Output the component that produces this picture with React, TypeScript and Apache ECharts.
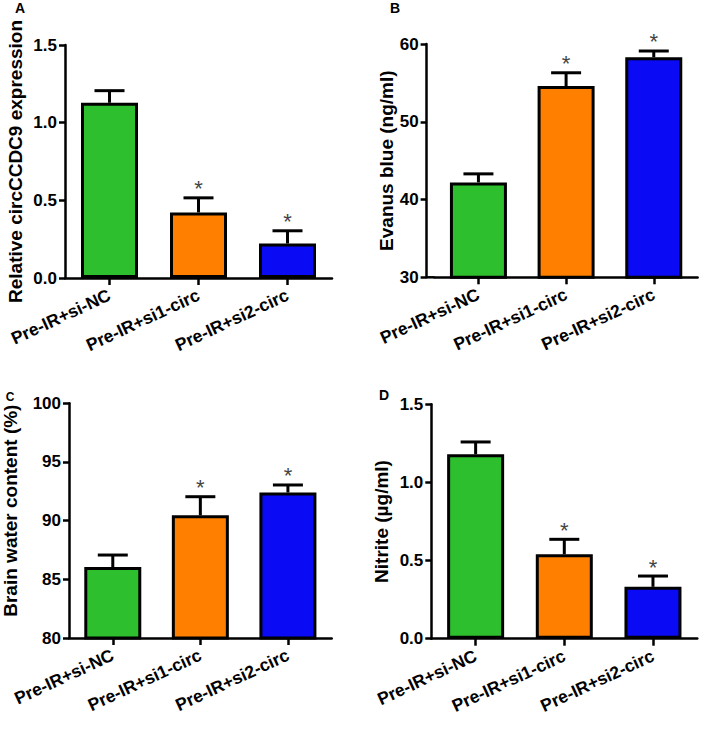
import React, { useEffect, useRef } from "react";
import * as echarts from "echarts";

const categories = ["Pre-IR+si-NC", "Pre-IR+si1-circ", "Pre-IR+si2-circ"];
const barColors = ["#2EBF2E", "#FF8000", "#0A0AF5"];
const significant = [0, 1, 1];

const relExprMean = [1.128, 0.422, 0.222];
const relExprErr = [0.078, 0.094, 0.082];

const evansMean = [42.2, 54.6, 58.3];
const evansErr = [1.1, 1.7, 0.8];

const waterMean = [86.05, 90.45, 92.4];
const waterErr = [1.02, 1.59, 0.64];

const nitriteMean = [1.18, 0.54, 0.332];
const nitriteErr = [0.079, 0.096, 0.069];

const FONT = "'Liberation Sans', Arial, Helvetica, sans-serif";

type Panel = {
  letter: string;
  name: string;
  mean: number[];
  err: number[];
  min: number;
  max: number;
  interval: number;
  decimals: number;
  grid: { left: number; top: number; width: number; height: number };
  yOffset: number;
  nameGap: number;
  namePad: number[];
  letterPos: [number, number];
  letterSize: number;
};

const panels: Panel[] = [
  {
    letter: "A",
    name: "Relative circCCDC9 expression",
    mean: relExprMean,
    err: relExprErr,
    min: 0,
    max: 1.5,
    interval: 0.5,
    decimals: 1,
    grid: { left: 65, top: 45, width: 267, height: 233 },
    yOffset: 0,
    nameGap: 40,
    namePad: [0, 0, 0, 0],
    letterPos: [20, 8],
    letterSize: 14,
  },
  {
    letter: "B",
    name: "Evanus blue (ng/ml)",
    mean: evansMean,
    err: evansErr,
    min: 30,
    max: 60,
    interval: 10,
    decimals: 0,
    grid: { left: 434.6, top: 44, width: 263, height: 233.3 },
    yOffset: 8,
    nameGap: 27,
    namePad: [0, 0, 0, 0],
    letterPos: [395, 8],
    letterSize: 14,
  },
  {
    letter: "C",
    name: "Brain water content (%)",
    mean: waterMean,
    err: waterErr,
    min: 80,
    max: 100,
    interval: 5,
    decimals: 0,
    grid: { left: 66.7, top: 403.3, width: 265, height: 234.7 },
    yOffset: 0,
    nameGap: 49,
    namePad: [0, 0, 0, 20],
    letterPos: [10, 397],
    letterSize: 12,
  },
  {
    letter: "D",
    name: "Nitrite (µg/ml)",
    mean: nitriteMean,
    err: nitriteErr,
    min: 0,
    max: 1.5,
    interval: 0.5,
    decimals: 1,
    grid: { left: 431.3, top: 404.3, width: 266, height: 234.4 },
    yOffset: 0,
    nameGap: 40,
    namePad: [0, 0, 0, 0],
    letterPos: [384, 395],
    letterSize: 14,
  },
];

export default function App() {
  const ref = useRef<HTMLDivElement>(null);

  useEffect(() => {
    if (!ref.current) return;
    const chart = echarts.init(ref.current, undefined, { renderer: "svg" });

    const axisLine = { show: true, lineStyle: { color: "#000", width: 2.5 } };
    const axisTick = { show: true, length: 6, lineStyle: { color: "#000", width: 2.5 } };

    const grid = panels.map((p) => ({ ...p.grid, containLabel: false }));

    const xAxis = panels.map((p, i) => ({
      type: "category",
      gridIndex: i,
      data: categories,
      boundaryGap: true,
      axisLine,
      axisTick: { ...axisTick, length: 7, alignWithLabel: true },
      axisLabel: {
        rotate: 25,
        margin: 16,
        interval: 0,
        color: "#000",
        fontSize: 17.5,
        fontWeight: "bold",
        fontFamily: FONT,
      },
      splitLine: { show: false },
    }));

    const yAxis = panels.map((p, i) => ({
      type: "value",
      gridIndex: i,
      min: p.min,
      max: p.max,
      interval: p.interval,
      offset: p.yOffset,
      name: p.name,
      nameLocation: "middle",
      nameGap: p.nameGap,
      nameTextStyle: {
        color: "#000",
        fontSize: 19,
        fontWeight: "bold",
        fontFamily: FONT,
        padding: p.namePad,
      },
      axisLine,
      axisTick,
      axisLabel: {
        margin: 8,
        color: "#000",
        fontSize: 17,
        fontWeight: "bold",
        fontFamily: FONT,
        formatter: (v: number) => v.toFixed(p.decimals),
      },
      splitLine: { show: false },
    }));

    const series: any[] = [];
    panels.forEach((p, i) => {
      series.push({
        type: "bar",
        xAxisIndex: i,
        yAxisIndex: i,
        barWidth: 57,
        data: p.mean.map((v, j) => ({
          value: v,
          itemStyle: { color: barColors[j] },
        })),
        itemStyle: { borderColor: "#000", borderWidth: 3 },
        z: 2,
      });
      series.push({
        type: "custom",
        xAxisIndex: i,
        yAxisIndex: i,
        z: 3,
        encode: { x: 0, y: 1 },
        data: p.mean.map((v, j) => [j, v, p.err[j], significant[j]]),
        renderItem: (params: any, api: any) => {
          const x = api.value(0);
          const m = api.value(1);
          const e = api.value(2);
          const s = api.value(3);
          const p0 = api.coord([x, m]);
          const p1 = api.coord([x, m + e]);
          const children: any[] = [
            {
              type: "line",
              shape: { x1: p0[0], y1: p0[1], x2: p1[0], y2: p1[1] },
              style: { stroke: "#000", lineWidth: 3 },
            },
            {
              type: "line",
              shape: { x1: p1[0] - 15, y1: p1[1], x2: p1[0] + 15, y2: p1[1] },
              style: { stroke: "#000", lineWidth: 3 },
            },
          ];
          if (s) {
            children.push({
              type: "text",
              x: p1[0],
              y: p1[1] + 2,
              style: {
                text: "*",
                fill: "#444",
                fontSize: 22,
                fontFamily: FONT,
                align: "center",
                verticalAlign: "bottom",
              },
            });
          }
          return { type: "group", children };
        },
      });
    });

    const graphic: any[] = panels.map((p) => ({
      type: "text",
      x: p.letterPos[0],
      y: p.letterPos[1],
      style: {
        text: p.letter,
        fill: "#000",
        fontSize: p.letterSize,
        fontWeight: "bold",
        fontFamily: FONT,
        align: "center",
        verticalAlign: "middle",
      },
    }));
    // join panel B's x axis line to its offset y axis
    const pb = panels[1];
    graphic.push({
      type: "line",
      shape: {
        x1: pb.grid.left - pb.yOffset,
        y1: pb.grid.top + pb.grid.height,
        x2: pb.grid.left,
        y2: pb.grid.top + pb.grid.height,
      },
      style: { stroke: "#000", lineWidth: 2.5 },
    });

    chart.setOption({
      animation: false,
      backgroundColor: "#fff",
      grid,
      xAxis,
      yAxis,
      series,
      graphic,
    } as any);

    return () => chart.dispose();
  }, []);

  return (
    <div
      ref={ref}
      style={{ position: "fixed", left: 0, top: 0, width: 709, height: 732 }}
    />
  );
}
